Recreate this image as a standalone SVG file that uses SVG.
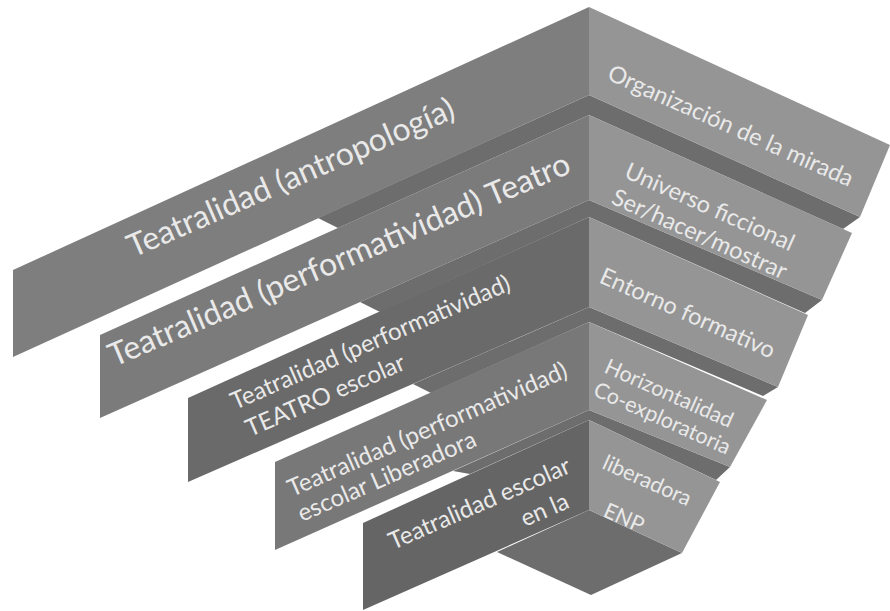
<svg xmlns="http://www.w3.org/2000/svg" width="890" height="611" viewBox="0 0 890 611">
  <style>
    .band { fill: #6d6d6d; }
    .right { fill: #959595; }
    .lbl { font-family: Lato, "Open Sans", "Liberation Sans", sans-serif; fill: #e9e9e9; }
    .big { font-size: 32px; }
    .mid { font-size: 24px; }
    .side { font-size: 23.5px; }
    .small { font-size: 21.5px; }
  </style>
  <rect width="890" height="611" fill="#ffffff"/>

  <!-- shaded undersides between the steps -->
  <g id="connectors">
    <polygon class="band" points="318,218 589,95 860,217 843,229 589,115 338,228"/>
    <polygon class="band" points="360,302 589,200 822,300 805,313 589,217 380,312"/>
    <polygon class="band" points="413,384 589,307 778,387 763,396 589,322 431,393"/>
    <polygon class="band" points="453,471 589,410 730,467 716,480 589,420 470,474"/>
  </g>

  <!-- step 1 -->
  <g id="step1">
    <polygon fill="#7e7e7e" points="589,7 13,270 13,357 589,95"/>
    <polygon class="right" points="589,7 890,145 860,217 589,95"/>
    <text class="lbl big" transform="translate(133,258) rotate(-23.5)">Teatralidad (antropología)</text>
    <text class="lbl side" transform="translate(606,79) rotate(24)">Organización de la mirada</text>
  </g>

  <!-- step 2 -->
  <g id="step2">
    <polygon fill="#7b7b7b" points="589,115 100,335 100,418 589,200"/>
    <polygon class="right" points="589,115 852,233 822,300 589,200"/>
    <text class="lbl big" transform="translate(114,367) rotate(-23)">Teatralidad (performatividad) Teatro</text>
    <text class="lbl side" transform="translate(623,177) rotate(24)">Universo ficcional</text>
    <text class="lbl side" transform="translate(610,203) rotate(24)">Ser/hacer/mostrar</text>
  </g>

  <!-- step 3 -->
  <g id="step3">
    <polygon fill="#6a6a6a" points="589,217 188,398 188,482 589,307"/>
    <polygon class="right" points="589,217 808,315 778,387 589,307"/>
    <text class="lbl mid" transform="translate(235,410) rotate(-23.5)">Teatralidad (performatividad)</text>
    <text class="lbl mid" transform="translate(250,437) rotate(-23.5)">TEATRO escolar</text>
    <text class="lbl side" transform="translate(598,282) rotate(24)">Entorno formativo</text>
  </g>

  <!-- step 4 -->
  <g id="step4">
    <polygon fill="#787878" points="589,322 275,462 275,550 589,410"/>
    <polygon class="right" points="589,322 767,400 730,467 589,410"/>
    <text class="lbl mid" transform="translate(292,497) rotate(-23.5)">Teatralidad (performatividad)</text>
    <text class="lbl mid" transform="translate(302,522) rotate(-23.5)">escolar Liberadora</text>
    <text class="lbl small" transform="translate(603,372) rotate(24)">Horizontalidad</text>
    <text class="lbl small" transform="translate(592,395) rotate(24)">Co-exploratoria</text>
  </g>

  <!-- step 5 with its visible base -->
  <g id="step5">
    <polygon class="band" points="589,510 682,553 591,595 497,552"/>
    <polygon fill="#656565" points="589,420 363,523 363,610 589,510"/>
    <polygon class="right" points="589,420 720,482 682,553 589,510"/>
    <text class="lbl mid" transform="translate(393,550) rotate(-23.5)">Teatralidad escolar</text>
    <text class="lbl mid" transform="translate(525,527) rotate(-23.5)">en la</text>
    <text class="lbl small" transform="translate(601,468) rotate(24)">liberadora</text>
    <text class="lbl small" transform="translate(602,516) rotate(24)">ENP</text>
  </g>
</svg>
